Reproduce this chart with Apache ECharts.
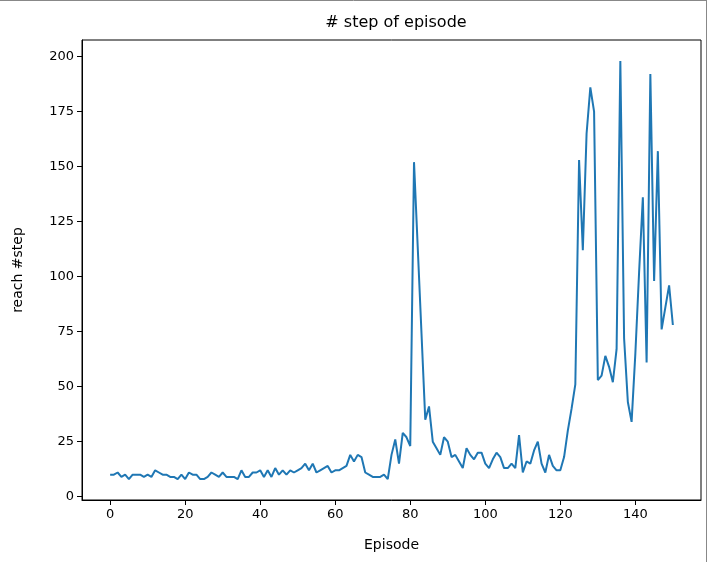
<!DOCTYPE html>
<html>
<head>
<meta charset="utf-8">
<script src="https://cdn.jsdelivr.net/npm/echarts@6/dist/echarts.min.js"></script>
<style>html,body{margin:0;padding:0;background:#fff;}#c{width:714px;height:562px;}</style>
</head>
<body>
<div id="c"></div>
<script>
const titleText = '# step of episode';
const xName = 'Episode';
const yName = 'reach #step';
const xTicks = [0, 20, 40, 60, 80, 100, 120, 140];
const yTicks = [0, 25, 50, 75, 100, 125, 150, 175, 200];
const steps = [
  10,10,11,9,10,8,10,10,10,9,
  10,9,12,11,10,10,9,9,8,10,
  8,11,10,10,8,8,9,11,10,9,
  11,9,9,9,8,12,9,9,11,11,
  12,9,12,9,13,10,12,10,12,11,
  12,13,15,12,15,11,12,13,14,11,
  12,12,13,14,19,16,19,18,11,10,
  9,9,9,10,8,19,26,15,29,27,
  23,152,113,74,35,41,25,22,19,27,
  25,18,19,16,13,22,19,17,20,20,
  15,13,17,20,18,13,13,15,13,28,
  11,16,15,21,25,15,11,19,14,12,
  12,18,30,40,51,153,112,165,186,175,
  53,55,64,59,52,67,198,72,43,34,
  65,102,136,61,192,98,157,76,86,96,
  78
];
const episodes = steps.map((v, i) => i);
const points = episodes.map((e, i) => [e, steps[i]]);

const chart = echarts.init(document.getElementById('c'), null, {renderer: 'canvas'});
const font = 'DejaVu Sans';
chart.setOption({
  animation: false,
  backgroundColor: '#ffffff',
  textStyle: {fontFamily: font},
  title: {
    text: titleText,
    left: 391, top: 10, textAlign: 'center',
    textStyle: {fontFamily: font, fontSize: 16, fontWeight: 'normal', color: '#000'}
  },
  graphic: [
    {type: 'line', shape: {x1: 0, y1: 0.5, x2: 707, y2: 0.5}, style: {stroke: '#888', lineWidth: 1}},
    {type: 'line', shape: {x1: 706.5, y1: 0, x2: 706.5, y2: 562}, style: {stroke: '#888', lineWidth: 1}}
  ],
  grid: {left: 82, right: 13, top: 40, bottom: 62, containLabel: false,
         show: true, borderColor: '#000', borderWidth: 1},
  xAxis: {
    type: 'value', min: -7.5, max: 157.5,
    name: xName, nameLocation: 'middle', nameGap: 38,
    nameTextStyle: {fontFamily: font, fontSize: 14, color: '#000'},
    axisLine: {show: true, onZero: false, lineStyle: {color: '#000', width: 1}},
    axisTick: {show: true, inside: false, length: 5, lineStyle: {color: '#000'}, customValues: xTicks},
    axisLabel: {fontFamily: font, fontSize: 13, color: '#000', margin: 8, customValues: xTicks},
    splitLine: {show: false}
  },
  yAxis: {
    type: 'value', min: -1.5, max: 207.5,
    name: yName, nameLocation: 'middle', nameGap: 57,
    nameTextStyle: {fontFamily: font, fontSize: 14, color: '#000'},
    axisLine: {show: true, onZero: false, lineStyle: {color: '#000', width: 1}},
    axisTick: {show: true, inside: false, length: 5, lineStyle: {color: '#000'}, customValues: yTicks},
    axisLabel: {fontFamily: font, fontSize: 13, color: '#000', margin: 8, customValues: yTicks},
    splitLine: {show: false}
  },
  series: [{
    type: 'line',
    data: points,
    showSymbol: false,
    symbol: 'none',
    lineStyle: {color: '#1f77b4', width: 2},
    itemStyle: {color: '#1f77b4'}
  }]
});
</script>
</body>
</html>
